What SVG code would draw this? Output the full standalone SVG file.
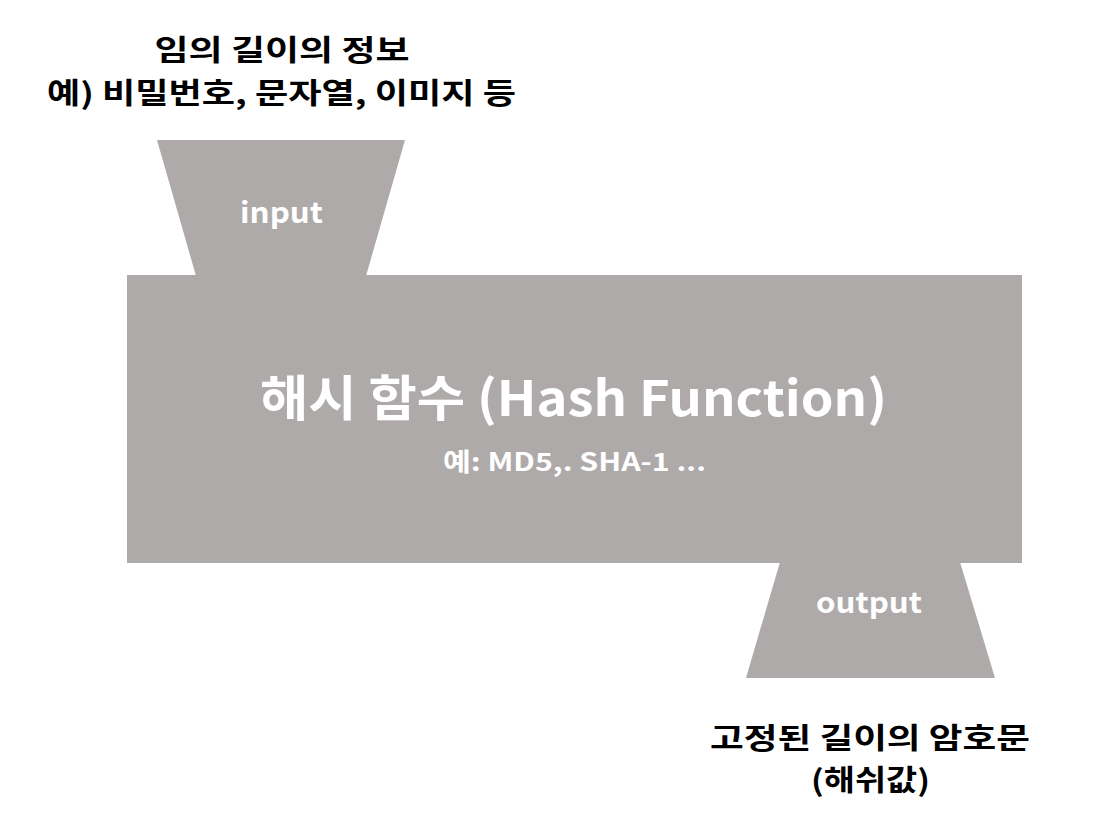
<svg xmlns="http://www.w3.org/2000/svg" width="1114" height="818" viewBox="0 0 1114 818">
  <style>
    .shape { fill: #AEAAAA; }
    .in { fill: #FFFFFF; font-family: "Noto Sans CJK KR", "Noto Sans", sans-serif; font-weight: bold; text-anchor: middle; }
    .out { fill: #000000; font-family: "Noto Sans CJK KR", "Noto Sans", sans-serif; font-weight: bold; text-anchor: middle; }
  </style>
  <rect width="1114" height="818" fill="#FFFFFF"/>

  <!-- input funnel -->
  <g id="input">
    <polygon class="shape" points="157,140 405,140 366,276 196,276"/>
    <text class="in" x="281.5" y="223" font-size="29" textLength="83" lengthAdjust="spacingAndGlyphs">input</text>
  </g>

  <!-- hash function body -->
  <g id="hash-function">
    <rect class="shape" x="127" y="275" width="895" height="288"/>
    <text class="in" x="573.5" y="416" font-size="49" textLength="627" lengthAdjust="spacingAndGlyphs">해시 함수 (Hash Function)</text>
    <text class="in" x="574.5" y="471" font-size="25" textLength="263" lengthAdjust="spacingAndGlyphs">예: MD5,. SHA-1 ...</text>
  </g>

  <!-- output funnel -->
  <g id="output">
    <polygon class="shape" points="780,562 960,562 995,678 746,678"/>
    <text class="in" x="869" y="613" font-size="29" textLength="106" lengthAdjust="spacingAndGlyphs">output</text>
  </g>

  <!-- labels -->
  <g id="input-label">
    <text class="out" x="282" y="61" font-size="29" textLength="255" lengthAdjust="spacingAndGlyphs">임의 길이의 정보</text>
    <text class="out" x="281.5" y="104" font-size="29" textLength="469" lengthAdjust="spacingAndGlyphs">예) 비밀번호, 문자열, 이미지 등</text>
  </g>
  <g id="output-label">
    <text class="out" x="870" y="749" font-size="29" textLength="320" lengthAdjust="spacingAndGlyphs">고정된 길이의 암호문</text>
    <text class="out" x="870.5" y="791" font-size="29" textLength="119" lengthAdjust="spacingAndGlyphs">(해쉬값)</text>
  </g>

  <g id="connectors"/>
</svg>
